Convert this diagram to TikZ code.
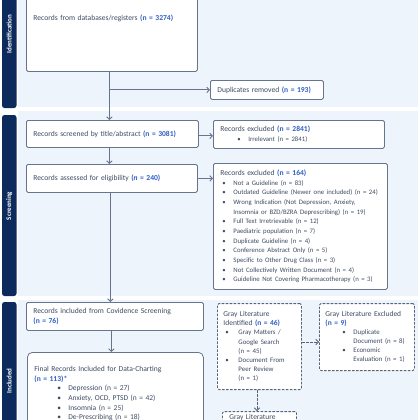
\documentclass[tikz,border=0pt]{standalone}
\usepackage{fontspec}
\setmainfont{Carlito}
\usetikzlibrary{arrows.meta}
\definecolor{band}{HTML}{EEF4FC}
\definecolor{navy}{HTML}{0D2A5C}
\definecolor{boxline}{HTML}{66758D}
\definecolor{dline}{HTML}{56657C}
\definecolor{txt}{HTML}{3E4C63}
\definecolor{nblue}{HTML}{2F5FC4}
\newcommand\nn[1]{\textcolor{nblue}{\bfseries #1}}
\newcommand\itsize{\fontsize{6.8}{9.7}\selectfont}
\newcommand\litem[3]{\par\leftskip=#2bp\relax\noindent\itsize\llap{\makebox[\dimexpr#2bp-#1bp\relax][l]{\textbullet}}#3\par}
\tikzset{
  box/.style={draw=boxline, line width=0.8pt, fill=white, rounded corners=1.5pt,
    anchor=north west, inner xsep=7bp, inner ysep=0pt, align=left, text=txt,
    font=\fontsize{7.6}{9.7}\selectfont},
  gbox/.style={box, draw=dline, dash pattern=on 2.6pt off 1.4pt, line width=1pt,
    font=\fontsize{7.5}{9.15}\selectfont\def\itsize{\fontsize{6.9}{9.15}\selectfont}},
  arr/.style={draw=boxline, line width=0.9pt, -{Straight Barb[length=2.6bp,width=5.5bp]}},
  darr/.style={arr, draw=dline, dash pattern=on 2.6pt off 1.4pt},
  side/.style={fill=navy, rounded corners=2.5bp},
  sidelabel/.style={rotate=90, text=white, font=\fontsize{7}{8}\selectfont\bfseries}
}
\begin{document}
\begin{tikzpicture}[x=1bp,y=-1bp]
\useasboundingbox (0,0) rectangle (420,420);
\clip (0,0) rectangle (420,420);
% bands
\fill[band] (18,-60) rectangle (418,107);
\fill[band] (18,111) rectangle (418,296);
\fill[band] (18,300) rectangle (418,480);
% sidebars
\fill[side] (2,-60) rectangle (16.5,108);
\fill[side] (2,115) rectangle (16.5,296);
\fill[side] (2,302) rectangle (16.5,480);
\node[sidelabel] (lid) at (9.3,34) {Identification};
\node[sidelabel] (lsc) at (9.3,206) {Screening};
\node[sidelabel] (lin) at (9.3,381) {Included};
% boxes
\node[box, text width=157bp, minimum height=106bp] (db) at (26,-35)
  {Records from databases/registers \nn{(n = 3274)}};
\node[box, text width=99bp, minimum height=19bp] (dup) at (210,80)
  {Duplicates removed \nn{(n = 193)}};
\node[box, text width=158bp, minimum height=27bp] (scr) at (26,120)
  {Records screened by title/abstract \nn{(n = 3081)}};
\node[box, text width=157bp, minimum height=28bp] (ex1) at (213,120)
  {Records excluded \nn{(n = 2841)}\litem{17}{28}{Irrelevant (n = 2841)}};
\node[box, text width=157bp, minimum height=28bp] (ass) at (26,164)
  {Records assessed for eligibility \nn{(\textit{n} = 240)}};
\node[box, text width=160bp, minimum height=126bp] (ex2) at (213,163)
  {Records excluded \nn{(n = 164)}%
   \litem{2}{13}{Not a Guideline (n = 83)}%
   \litem{2}{13}{Outdated Guideline (Newer one included) (n = 24)}%
   \litem{2}{13}{Wrong Indication (Not Depression, Anxiety,\\Insomnia or BZD/BZRA Deprescribing) (n = 19)}%
   \litem{2}{13}{Full Text Irretrievable (n = 12)}%
   \litem{2}{13}{Paediatric population (n = 7)}%
   \litem{2}{13}{Duplicate Guideline (n = 4)}%
   \litem{2}{13}{Conference Abstract Only (n = 5)}%
   \litem{2}{13}{Specific to Other Drug Class (n = 3)}%
   \litem{2}{13}{Not Collectively Written Document (n = 4)}%
   \litem{2}{13}{Guideline Not Covering Pharmacotherapy (n = 3)}};
\node[box, text width=163bp, minimum height=28bp] (inc) at (26,302)
  {Records included from Covidence Screening\\\nn{(n = 76)}};
\node[box, rounded corners=5bp, text width=162bp, inner ysep=14bp,
      font=\fontsize{7.6}{9.7}\selectfont\def\itsize{\fontsize{7.5}{9.7}\selectfont}] (fin) at (27,352)
  {Final Records Included for Data-Charting\\\nn{(n = 113)*}%
   \litem{23}{34}{Depression (n = 27)}%
   \litem{23}{34}{Anxiety, OCD, PTSD (n = 42)}%
   \litem{23}{34}{Insomnia (n = 25)}%
   \litem{23}{34}{De-Prescribing (n = 18)}};
\node[gbox, inner xsep=6bp, text width=72bp, minimum height=86bp] (gid) at (217,303)
  {Gray Literature\\Identified \nn{(n = 46)}%
   \litem{2}{15}{Gray Matters /\\Google Search\\(n = 45)}%
   \litem{2}{15}{Document From\\Peer Review\\(n = 1)}};
\node[gbox, inner xsep=6bp, text width=83bp, minimum height=67bp] (gex) at (319,303)
  {Gray Literature Excluded\\\nn{(n = 9)}%
   \litem{17}{28}{Duplicate\\Document (n = 8)}%
   \litem{17}{28}{Economic\\Evaluation (n = 1)}};
\node[gbox, text width=60bp, inner ysep=3bp] (g3) at (222,411)
  {Gray Literature\\\phantom{Gray Literature}};
% connectors
\draw[arr] ([xshift=-2.5bp]db.south) -- ([xshift=-2.5bp]db.south |- scr.north);
\draw[arr] ([xshift=-2.5bp]db.south |- dup.west) -- (dup.west);
\draw[arr] ([yshift=-2bp]scr.east) -- ([yshift=-2bp]scr.east -| ex1.west);
\draw[arr] ([xshift=-3bp]scr.south) -- ([xshift=-3bp]scr.south |- ass.north);
\draw[arr] (ass.east) -- (ass.east -| ex2.west);
\draw[arr] ([xshift=-1.5bp]ass.south) -- ([xshift=-1.5bp]ass.south |- inc.north);
\draw[arr] ([xshift=-3.5bp]inc.south) -- ([xshift=-3.5bp]inc.south |- fin.north);
\draw[darr] ([yshift=4.5bp]gid.east) -- ([yshift=4.5bp]gid.east -| gex.west);
\draw[darr] ([xshift=-2.5bp]gid.south) -- ([xshift=-2.5bp]gid.south |- g3.north);
\end{tikzpicture}
\end{document}
